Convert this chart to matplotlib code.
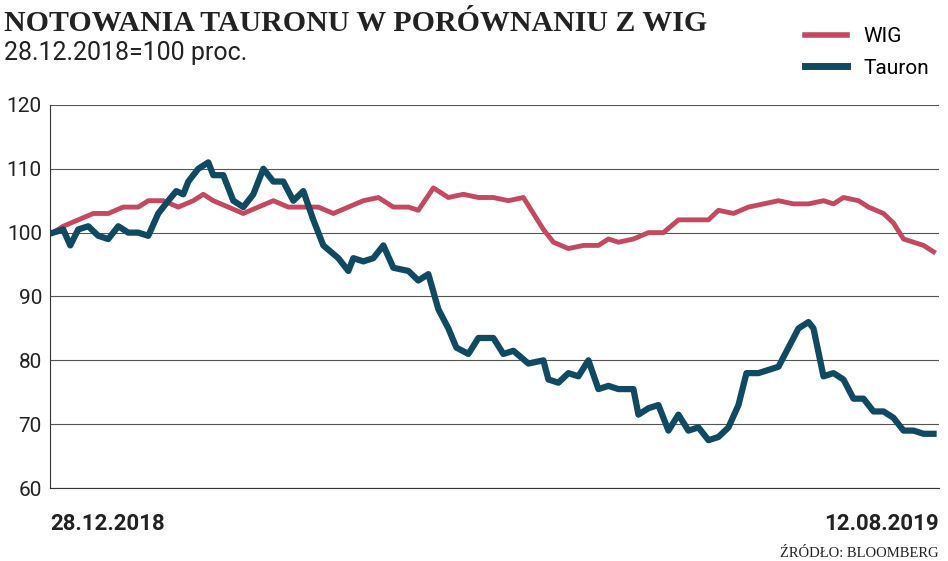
import matplotlib.pyplot as plt
from matplotlib.lines import Line2D

# pozycje (kolejne sesje, skala pozioma 0..883) i wartości, 28.12.2018=100
WIG_X = [0, 10, 25, 40, 55, 70, 85, 95, 110, 125, 140, 150, 160, 175, 190, 205, 220, 235, 250,
         265, 280, 295, 310, 325, 340, 355, 365, 380, 395, 410, 425, 440, 455, 470, 480, 490,
         500, 515, 530, 545, 555, 565, 580, 595, 610, 625, 640, 655, 665, 680, 695, 710, 725,
         740, 755, 770, 780, 790, 805, 815, 830, 840, 850, 860, 870, 880]
WIG_Y = [100, 101, 102, 103, 103, 104, 104, 105, 105, 104, 105, 106, 105, 104, 103, 104, 105,
         104, 104, 104, 103, 104, 105, 105.5, 104, 104, 103.5, 107, 105.5, 106, 105.5, 105.5,
         105, 105.5, 103, 100.5, 98.5, 97.5, 98, 98, 99, 98.5, 99, 100, 100, 102, 102, 102,
         103.5, 103, 104, 104.5, 105, 104.5, 104.5, 105, 104.5, 105.5, 105, 104, 103, 101.5,
         99, 98.5, 98, 97]

TAURON_X = [0, 10, 17, 25, 35, 45, 55, 65, 75, 85, 95, 105, 115, 123, 130, 135, 145, 155, 160,
            170, 180, 190, 200, 210, 220, 230, 240, 250, 260, 270, 285, 295, 300, 310, 320, 330,
            340, 355, 365, 375, 385, 395, 403, 415, 425, 440, 450, 460, 475, 490, 495, 505, 515,
            525, 535, 545, 555, 565, 580, 585, 595, 605, 615, 625, 635, 645, 655, 665, 675, 685,
            693, 705, 715, 725, 735, 745, 755, 760, 770, 780, 790, 800, 810, 820, 830, 840, 850,
            860, 870, 880]
TAURON_Y = [100, 100.5, 98, 100.5, 101, 99.5, 99, 101, 100, 100, 99.5, 103, 105, 106.5, 106,
            108, 110, 111, 109, 109, 105, 104, 106, 110, 108, 108, 105, 106.5, 102, 98, 96, 94,
            96, 95.5, 96, 98, 94.5, 94, 92.5, 93.5, 88, 85, 82, 81, 83.5, 83.5, 81, 81.5, 79.5,
            80, 77, 76.5, 78, 77.5, 80, 75.5, 76, 75.5, 75.5, 71.5, 72.5, 73, 69, 71.5, 69,
            69.5, 67.5, 68, 69.5, 73, 78, 78, 78.5, 79, 82, 85, 86, 85, 77.5, 78, 77, 74, 74,
            72, 72, 71, 69, 69, 68.5, 68.5]

Y_TICKS = [60, 70, 80, 90, 100, 110, 120]
DATA_OD = "28.12.2018"
DATA_DO = "12.08.2019"

WIG_KOLOR = "#c4485f"
TAURON_KOLOR = "#0f4a62"

plt.rcParams["font.family"] = ["Roboto", "DejaVu Sans"]

fig = plt.figure(figsize=(9.48, 5.61), dpi=100)
ax = fig.add_axes([0.053, 0.13, 0.937, 0.683])

ax.plot(WIG_X, WIG_Y, color=WIG_KOLOR, lw=3.5, solid_joinstyle="round")
ax.plot(TAURON_X, TAURON_Y, color=TAURON_KOLOR, lw=4.5, solid_joinstyle="round")

ax.set_xlim(-3, 885)
ax.set_ylim(60, 120)
ax.set_yticks(Y_TICKS)
ax.set_xticks([])
ax.grid(axis="y", color="#555555", lw=0.8)
ax.set_axisbelow(True)
for s in ["top", "right"]:
    ax.spines[s].set_visible(False)
ax.spines["left"].set_color("#333333")
ax.spines["bottom"].set_color("#333333")
ax.tick_params(axis="y", length=0, labelsize=15, pad=6, colors="#222222")

fig.text(0.053, 0.055, DATA_OD, fontsize=16, weight="bold", ha="left", color="#222222")
fig.text(0.99, 0.055, DATA_DO, fontsize=16, weight="bold", ha="right", color="#222222")
fig.text(0.99, 0.008, "Źródło: Bloomberg".upper(), fontsize=10.5, ha="right",
         family="Liberation Serif", color="#222222")

fig.text(0.004, 0.958, "NOTOWANIA TAURONU W PORÓWNANIU Z WIG", fontsize=21.5, weight="bold",
         family="Liberation Serif", color="#222222", va="center")
fig.text(0.004, 0.905, "28.12.2018=100 proc.", fontsize=18, color="#222222", va="center")

uchwyty = [Line2D([], [], color=WIG_KOLOR, lw=4), Line2D([], [], color=TAURON_KOLOR, lw=5)]
fig.legend(uchwyty, ["WIG", "Tauron"], loc="upper right", bbox_to_anchor=(1.0, 0.985),
           frameon=False, fontsize=15, handlelength=2.0, labelspacing=0.6)

fig.savefig("out.png", dpi=100)
